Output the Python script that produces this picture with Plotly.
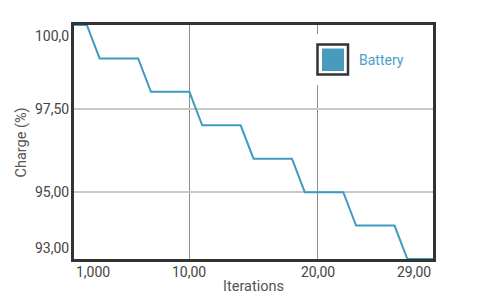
import plotly.graph_objects as go

# ---- data ----
iterations = [1, 2, 3, 4, 5, 6, 7, 8, 9, 10, 11, 12, 13, 14, 15, 16, 17, 18, 19, 20,
              21, 22, 23, 24, 25, 26, 27, 28, 29]
charge = [100, 100, 99, 99, 99, 99, 98, 98, 98, 98, 97, 97, 97, 97, 96, 96, 96, 96,
          95, 95, 95, 95, 94, 94, 94, 94, 93, 93, 93]
series_name = "Battery"
x_tick_vals = [1, 10, 20, 29]
x_tick_text = ["1,000", "10,00", "20,00", "29,00"]
y_tick_vals = [100, 97.5, 95, 93]
y_tick_text = ["100,0", "97,50", "95,00", "93,00"]

# ---- layout constants ----
W, H = 479, 304
ML, MR, MT, MB = 74, 46, 25, 45
PW, PH = W - ML - MR, H - MT - MB
LINE_COLOR = "#3f9bc1"
FONT = "Roboto"


def px(x):
    return (x - ML) / PW


def py(y):
    return 1 - (y - MT) / PH


fig = go.Figure()
fig.add_trace(go.Scatter(x=iterations, y=charge, mode="lines", name=series_name,
                         line=dict(color=LINE_COLOR, width=2), showlegend=False,
                         cliponaxis=True))

annotations = []
for v, t in zip(x_tick_vals, x_tick_text):
    anchor = "center"
    if v == x_tick_vals[0]:
        anchor = "left"
    elif v == x_tick_vals[-1]:
        anchor = "right"
    annotations.append(dict(x=v, y=0, xref="x", yref="paper", text=t, showarrow=False,
                            xanchor=anchor, yanchor="top", yshift=-3,
                            font=dict(family=FONT, size=14, color="#444")))
for v, t in zip(y_tick_vals, y_tick_text):
    anchor = "middle"
    ys = 0
    if v == max(y_tick_vals):
        anchor = "top"
        ys = -1
    elif v == min(y_tick_vals):
        anchor = "bottom"
        ys = 1
    annotations.append(dict(x=0, y=v, xref="paper", yref="y", text=t, showarrow=False,
                            xanchor="right", yanchor=anchor, xshift=-3, yshift=ys,
                            font=dict(family=FONT, size=14, color="#444")))

annotations.append(dict(x=0.5, y=py(286.5), xref="paper", yref="paper", text="Iterations",
                        showarrow=False, xanchor="center", yanchor="middle",
                        font=dict(family=FONT, size=14.5, color="#555")))
annotations.append(dict(x=px(21), y=py(142.5), xref="paper", yref="paper", text="Charge (%)",
                        showarrow=False, xanchor="center", yanchor="middle", textangle=-90,
                        font=dict(family=FONT, size=14.5, color="#555")))
annotations.append(dict(x=px(357), y=py(60), xref="paper", yref="paper", text=series_name,
                        showarrow=False, xanchor="left", yanchor="middle",
                        font=dict(family=FONT, size=14, color="#4aa0c6")))

shapes = [
    dict(type="rect", xref="paper", yref="paper", x0=px(306), x1=px(420), y0=py(85), y1=py(34),
         fillcolor="white", line=dict(width=0), layer="above"),
    dict(type="rect", xref="paper", yref="paper", x0=px(317.5), x1=px(348), y0=py(74.5), y1=py(44.5),
         fillcolor="white", line=dict(color="#333", width=2.5), layer="above"),
    dict(type="rect", xref="paper", yref="paper", x0=px(322), x1=px(344), y0=py(71), y1=py(48.5),
         fillcolor="#489bbd", line=dict(width=0), layer="above"),
]

fig.update_layout(
    width=W, height=H,
    margin=dict(l=ML, r=MR, t=MT, b=MB, pad=0),
    paper_bgcolor="white", plot_bgcolor="white",
    font=dict(family=FONT),
    annotations=annotations,
    shapes=shapes,
    xaxis=dict(range=[1, 29], tickvals=x_tick_vals, showticklabels=False, ticks="",
               showgrid=True, gridcolor="#8c8c8c", gridwidth=1, zeroline=False,
               showline=True, mirror=True, linecolor="#333", linewidth=2.5),
    yaxis=dict(range=[93, 100], tickvals=y_tick_vals, showticklabels=False, ticks="",
               showgrid=True, gridcolor="#c8c8c8", gridwidth=2, zeroline=False,
               showline=True, mirror=True, linecolor="#333", linewidth=2.5),
)

fig.write_html("out.html")
